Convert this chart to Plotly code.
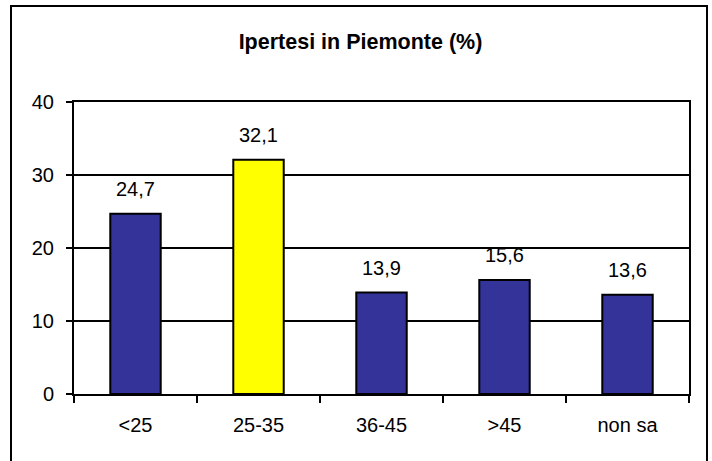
import plotly.graph_objects as go

categories = ["<25", "25-35", "36-45", ">45", "non sa"]
values = [24.7, 32.1, 13.9, 15.6, 13.6]
bar_colors = ["#333399", "#FFFF00", "#333399", "#333399", "#333399"]
y_ticks = [0, 10, 20, 30, 40]
title_text = "Ipertesi in Piemonte (%)"

FONT = "Liberation Sans, Arial, sans-serif"

fig = go.Figure()
fig.add_trace(go.Bar(
    x=categories, y=values,
    marker=dict(color=bar_colors, line=dict(color="black", width=2)),
    width=0.41,
    hoverinfo="skip",
))

for c, v in zip(categories, values):
    fig.add_annotation(
        x=c, y=v, xref="x", yref="y",
        text=f"{v:.1f}".replace(".", ","),
        showarrow=False, yanchor="bottom", yshift=12,
        font=dict(family=FONT, size=20, color="black"),
    )

W, H = 712, 461
L, R, T, B = 74, 689, 102, 394
pw, ph = R - L, B - T

def px_x(p):
    return (p - L) / pw

def px_y(p):
    return (B - p) / ph

fig.add_shape(type="rect", xref="paper", yref="paper",
              x0=px_x(11), x1=px_x(707), y0=px_y(480), y1=px_y(6),
              line=dict(color="black", width=2), fillcolor="rgba(0,0,0,0)", layer="above")

fig.update_layout(
    width=W, height=H,
    margin=dict(l=L, r=W - R, t=T, b=H - B, pad=0),
    paper_bgcolor="white", plot_bgcolor="white",
    showlegend=False,
    font=dict(family=FONT, size=20, color="black"),
    title=dict(text=f"<b>{title_text}</b>", x=360.5 / W, xanchor="center",
               y=1 - 41 / H, yanchor="middle", yref="container",
               font=dict(family=FONT, size=21.5, color="black")),
    xaxis=dict(
        showline=True, linecolor="black", linewidth=2, mirror=True,
        ticks="outside", tickson="boundaries", ticklen=7, tickwidth=2, tickcolor="black",
        showgrid=False, ticklabelstandoff=12,
        tickfont=dict(family=FONT, size=20, color="black"),
    ),
    yaxis=dict(
        range=[0, 40], tickvals=y_ticks,
        showline=True, linecolor="black", linewidth=2, mirror=True,
        ticks="outside", ticklen=6, tickwidth=2, tickcolor="black",
        showgrid=True, gridcolor="black", gridwidth=2, zeroline=False,
        ticklabelstandoff=8,
        tickfont=dict(family=FONT, size=20, color="black"),
    ),
)

fig.write_html(
    "out.html",
    config={"displayModeBar": False},
    post_script="document.body.style.margin='0';document.body.style.overflow='hidden';",
)
